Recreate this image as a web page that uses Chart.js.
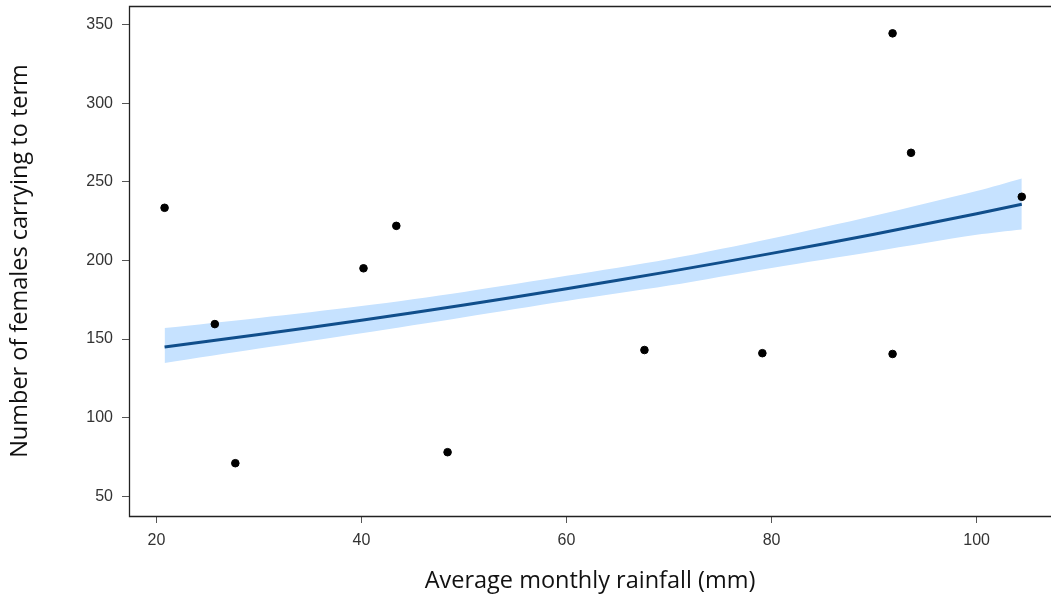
<!DOCTYPE html>
<html>
<head>
<meta charset="utf-8">
<script src="https://cdn.jsdelivr.net/npm/chart.js@4/dist/chart.umd.min.js"></script>
<style>
  html, body { margin: 0; padding: 0; background: #fff; }
  #wrap { width: 1051px; height: 599px; }
</style>
</head>
<body>
<div id="wrap"><canvas id="chart"></canvas></div>
<script>
// observed points
const rainfall = [20.8, 25.7, 27.7, 40.2, 43.4, 48.4, 67.6, 79.1, 91.8, 93.6, 91.8, 104.4];
const females  = [233.5, 159.5, 71, 195, 222, 78, 143, 141, 344.5, 268.5, 140.5, 240.5];

// fitted curve and confidence band
const fitX     = [20.8, 30, 40, 50, 60, 70, 80, 90, 100, 104.4];
const fitY     = [144.9, 152.9, 162.0, 171.7, 182.0, 192.9, 204.5, 216.7, 229.7, 235.7];
const bandHigh = [157.0, 163.4, 171.0, 180.0, 190.2, 200.9, 214.0, 228.5, 244.2, 252.2];
const bandLow  = [134.7, 143.9, 153.7, 163.9, 174.2, 184.0, 195.2, 205.7, 216.3, 219.7];

const xTicks = [20, 40, 60, 80, 100];
const yTicks = [50, 100, 150, 200, 250, 300, 350];

const toXY = (xs, ys) => xs.map((x, i) => ({ x: x, y: ys[i] }));

// box runs off the right edge of the image, so only top, left, bottom
const frame = {
  id: 'frame',
  afterDraw(chart) {
    const a = chart.chartArea, ctx = chart.ctx;
    ctx.save();
    ctx.strokeStyle = '#222';
    ctx.lineWidth = 1.3;
    ctx.beginPath();
    ctx.moveTo(chart.width, a.top + 0.5);
    ctx.lineTo(a.left + 0.5, a.top + 0.5);
    ctx.lineTo(a.left + 0.5, a.bottom + 0.5);
    ctx.lineTo(chart.width, a.bottom + 0.5);
    ctx.stroke();
    ctx.restore();
  }
};

const tickFont = { family: 'Liberation Sans, Arial, sans-serif', size: 16 };
const titleFont = { family: 'Open Sans, sans-serif', size: 23.5 };

new Chart(document.getElementById('chart'), {
  type: 'scatter',
  data: {
    datasets: [
      {
        label: 'observed',
        data: toXY(rainfall, females),
        backgroundColor: '#000',
        borderColor: '#000',
        pointRadius: 3.8,
        pointHoverRadius: 3.8,
        order: 0
      },
      {
        label: 'fit',
        type: 'line',
        data: toXY(fitX, fitY),
        borderColor: '#104e8b',
        borderWidth: 3,
        pointRadius: 0,
        fill: false,
        tension: 0.3,
        order: 1
      },
      {
        label: 'upper',
        type: 'line',
        data: toXY(fitX, bandHigh),
        borderWidth: 0,
        pointRadius: 0,
        fill: false,
        tension: 0.3,
        order: 3
      },
      {
        label: 'lower',
        type: 'line',
        data: toXY(fitX, bandLow),
        borderWidth: 0,
        pointRadius: 0,
        backgroundColor: '#c6e2ff',
        fill: '-1',
        tension: 0.3,
        order: 2
      }
    ]
  },
  options: {
    responsive: true,
    maintainAspectRatio: false,
    animation: false,
    layout: { autoPadding: false, padding: { top: 6, right: 0, left: 0, bottom: 0 } },
    plugins: { legend: { display: false }, tooltip: { enabled: false } },
    scales: {
      x: {
        type: 'linear',
        min: 17.33,
        max: 107.25,
        afterBuildTicks: s => { s.ticks = xTicks.map(v => ({ value: v })); },
        afterFit: s => { s.height = 83; s.paddingLeft = 0; s.paddingRight = 0; },
        grid: { drawOnChartArea: false, tickLength: 7, color: '#555', tickWidth: 1 },
        border: { display: false },
        ticks: { font: tickFont, color: '#333', padding: 8, maxRotation: 0 },
        title: { display: true, text: 'Average monthly rainfall (mm)', font: titleFont, color: '#111', padding: { top: 10 } }
      },
      y: {
        min: 37.4,
        max: 361.9,
        afterBuildTicks: s => { s.ticks = yTicks.map(v => ({ value: v })); },
        afterFit: s => { s.width = 129; s.paddingTop = 0; s.paddingBottom = 0; },
        grid: { drawOnChartArea: false, tickLength: 7, color: '#555', tickWidth: 1 },
        border: { display: false },
        ticks: { font: tickFont, color: '#333', padding: 9 },
        title: { display: true, text: 'Number of females carrying to term', font: titleFont, color: '#111', padding: { top: 6, bottom: 0 } }
      }
    }
  },
  plugins: [frame]
});
</script>
</body>
</html>
